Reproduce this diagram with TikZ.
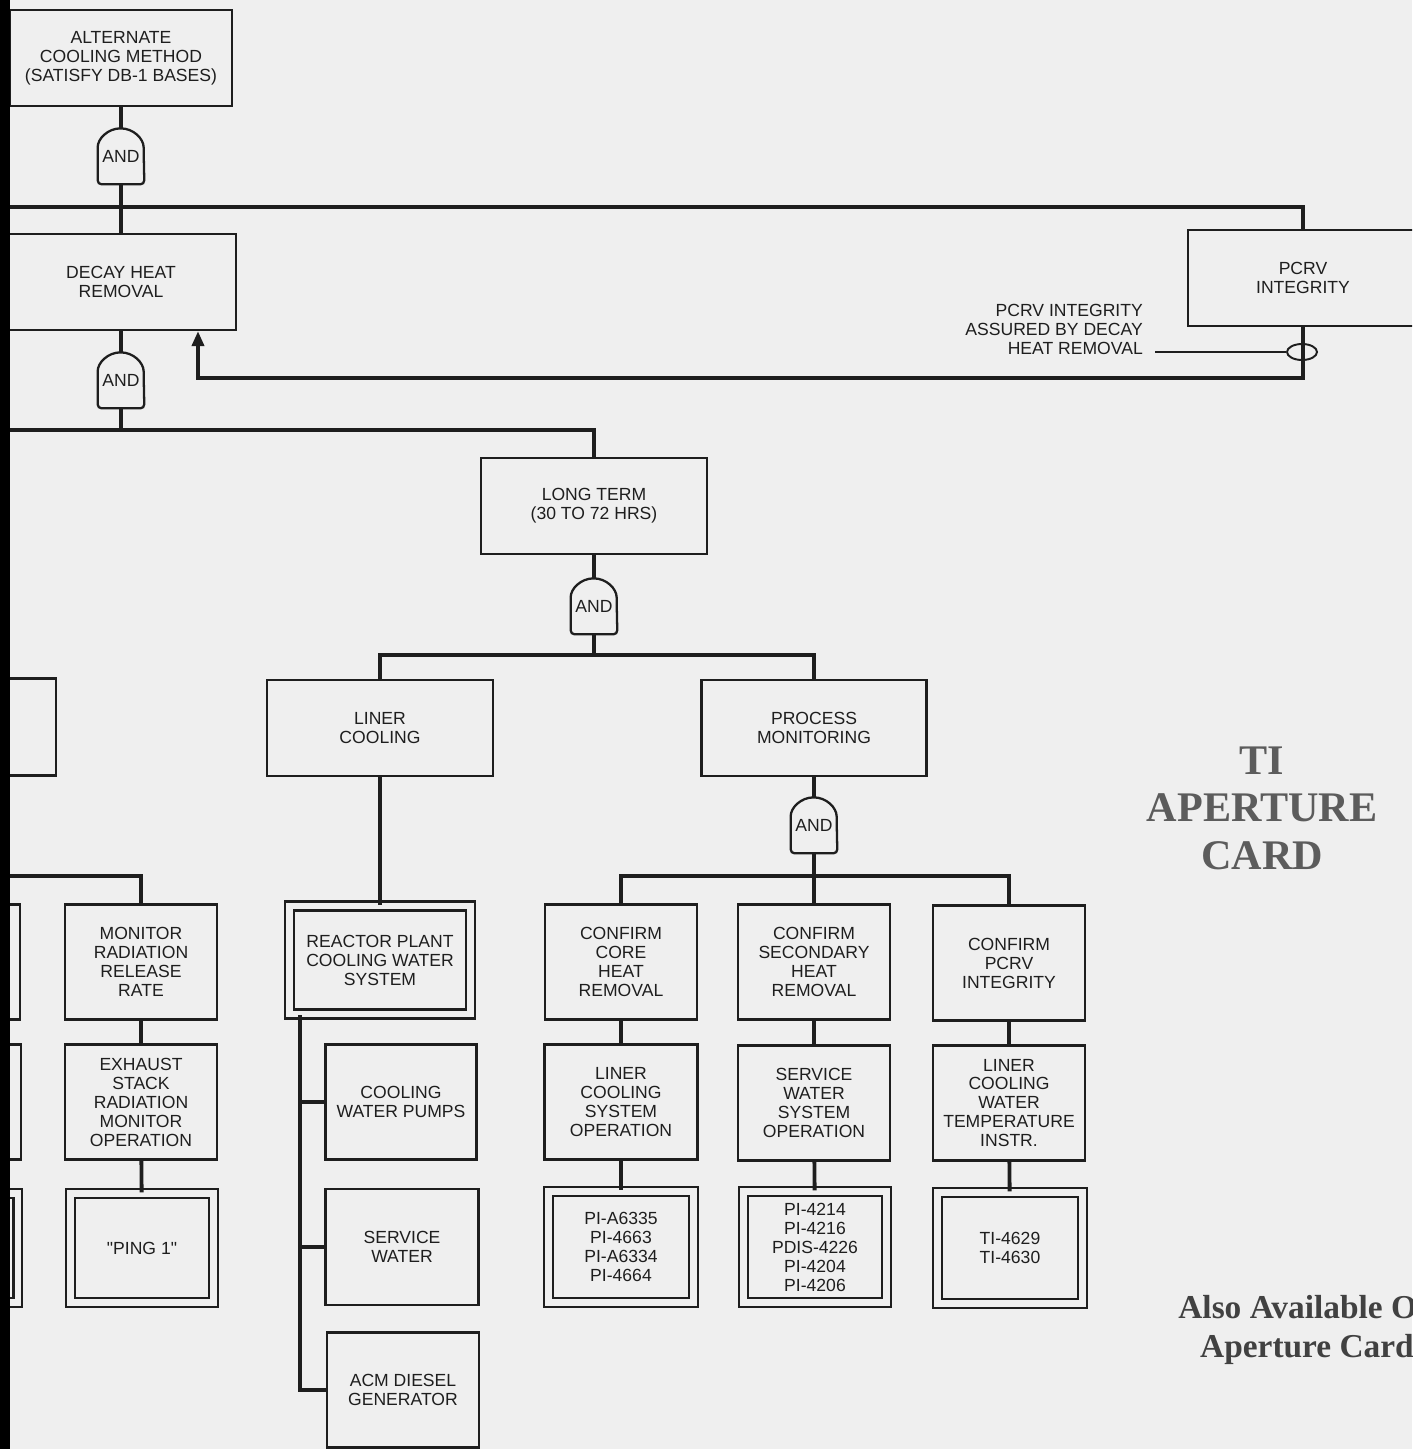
\documentclass[tikz,border=0pt]{standalone}
\usepackage{fontspec}
\setmainfont{Liberation Sans}[Ligatures=TeXOff]
\newfontfamily\cardfont{Liberation Serif}
\usetikzlibrary{positioning,shapes.geometric,arrows.meta}
\definecolor{scanbg}{HTML}{EFEFEF}
\definecolor{inkblack}{HTML}{1E1E1E}
\definecolor{inkgray}{HTML}{5C5C5C}
\tikzset{
    >={Triangle[length=3mm,width=2.4mm]},
    wire/.style={draw=inkblack, line width=2.2pt},
    font={\fontsize{10pt}{10.8pt}\selectfont},
}

\begin{document}
\begin{tikzpicture}[x=0.02cm, y=-0.02cm]
\tikzstyle{block} = [rectangle, draw=inkblack, line width=1.3pt, text=inkblack, align=center, inner sep=1pt]
\tikzstyle{instr} = [block, double=scanbg, double distance=0.13cm]
\tikzstyle{gate} = [rectangle, minimum width=0.92cm, minimum height=1.12cm, inner sep=0pt, text=inkblack]

\useasboundingbox (0,0) rectangle (1412,1449);
\clip (0,0) rectangle (1412,1449);
\fill[scanbg] (0,0) rectangle (1412,1449);

% Top of tree
\node[block, minimum width=4.44cm, minimum height=1.92cm] (alt_cool) at (121,58) {ALTERNATE\\COOLING METHOD\\(SATISFY DB-1 BASES)};
\node[gate] (and_alt) at (121,156) {AND};
\node[block, minimum width=4.6cm, minimum height=1.92cm] (decay) at (121,282) {DECAY HEAT\\REMOVAL};
\node[gate] (and_dhr) at (121,380) {AND};
\node[block, minimum width=4.6cm, minimum height=1.92cm] (pcrv) at (1303,278) {PCRV\\INTEGRITY};
\node[ellipse, draw=inkblack, line width=1.1pt, minimum width=0.6cm, minimum height=0.32cm, inner sep=0pt] (ring) at (1302,352) {};
\node[align=right, anchor=east, text=inkblack] (pcrv_note) at (1149,329) {PCRV INTEGRITY\\ASSURED BY DECAY\\HEAT REMOVAL};
\coordinate (note_end) at (1155,352);
\coordinate (bus_top) at (0,207);
\coordinate (bus_mid) at (0,430);
\coordinate (fb_corner) at (198,378);

% Long term
\node[block, minimum width=4.52cm, minimum height=1.92cm] (long_term) at (594,506) {LONG TERM\\(30 TO 72 HRS)};
\node[gate] (and_lt) at (594,606) {AND};
\coordinate (j_lt) at (594,655);
\node[block, minimum width=4.52cm, minimum height=1.92cm] (liner) at (380,728) {LINER\\COOLING};
\node[block, minimum width=4.5cm, minimum height=1.92cm] (proc_mon) at (814,728) {PROCESS\\MONITORING};
\node[gate] (and_pm) at (814,825) {AND};
\coordinate (j_pm) at (814,876);

% Liner cooling branch
\node[instr, minimum width=3.62cm, minimum height=2.16cm] (rp_cw) at (380,960) {REACTOR PLANT\\COOLING WATER\\SYSTEM};
\node[block, minimum width=3.02cm, minimum height=2.3cm] (cw_pumps) at (401,1102) {COOLING\\WATER PUMPS};
\node[block, minimum width=3.06cm, minimum height=2.32cm] (serv_water) at (402,1247) {SERVICE\\WATER};
\node[block, minimum width=3.04cm, minimum height=2.3cm] (acm_diesel) at (403,1390) {ACM DIESEL\\GENERATOR};
\coordinate (rp_spine) at (300,1390);

% Process monitoring branch
\node[block, minimum width=3.04cm, minimum height=2.3cm] (conf_core) at (621,962) {CONFIRM\\CORE\\HEAT\\REMOVAL};
\node[block, minimum width=3.04cm, minimum height=2.3cm] (conf_sec) at (814,962) {CONFIRM\\SECONDARY\\HEAT\\REMOVAL};
\node[block, minimum width=3.04cm, minimum height=2.3cm] (conf_pcrv) at (1009,963) {CONFIRM\\PCRV\\INTEGRITY};
\node[block, minimum width=3.06cm, minimum height=2.3cm] (lcs_op) at (621,1102) {LINER\\COOLING\\SYSTEM\\OPERATION};
\node[block, minimum width=3.04cm, minimum height=2.3cm] (sws_op) at (814,1103) {SERVICE\\WATER\\SYSTEM\\OPERATION};
\node[block, minimum width=3.04cm, minimum height=2.3cm] (lcw_temp) at (1009,1103) {LINER\\COOLING\\WATER\\TEMPERATURE\\INSTR.};
\node[instr, minimum width=2.9cm, minimum height=2.22cm] (pi_core) at (621,1247) {PI-A6335\\PI-4663\\PI-A6334\\PI-4664};
\node[instr, minimum width=2.86cm, minimum height=2.22cm] (pi_sec) at (815,1247) {PI-4214\\PI-4216\\PDIS-4226\\PI-4204\\PI-4206};
\node[instr, minimum width=2.9cm, minimum height=2.22cm] (ti_pcrv) at (1010,1248) {TI-4629\\TI-4630};

% Left edge, cut off
\node[block, anchor=east, minimum width=2cm, minimum height=1.94cm] (part_a) at (57,727) {};
\node[block, anchor=east, minimum width=2cm, minimum height=2.3cm] (part_b) at (21,962) {};
\node[block, anchor=east, minimum width=2cm, minimum height=2.3cm] (part_c) at (22,1102) {};
\node[instr, anchor=east, minimum width=2cm, minimum height=2.18cm] (part_d) at (19,1248) {};
\node[block, minimum width=3.04cm, minimum height=2.3cm] (mon_rad) at (141,962) {MONITOR\\RADIATION\\RELEASE\\RATE};
\node[block, minimum width=3.04cm, minimum height=2.3cm] (exh_stack) at (141,1102) {EXHAUST\\STACK\\RADIATION\\MONITOR\\OPERATION};
\node[instr, minimum width=2.86cm, minimum height=2.18cm] (ping) at (142,1248) {"PING 1"};
\coordinate (bus_left) at (0,876);

% AND gate outlines
\foreach \g in {and_alt,and_dhr,and_lt,and_pm}{
    \draw[draw=inkblack, line width=1.3pt, rounded corners=0.08cm] (\g.south west) -- ([yshift=0.66cm]\g.south west) arc[start angle=180, end angle=0, radius=0.46cm] -- (\g.south east) -- cycle;
}

% Connectors
\draw[wire] (alt_cool) -- (and_alt);
\draw[wire] (and_alt) -- (decay);
\draw[wire] (bus_top) -| (pcrv.north);
\draw[wire] (decay) -- (and_dhr);
\draw[wire] (and_dhr.south) -- (and_dhr.south |- bus_mid);
\draw[wire] (bus_mid) -| (long_term.north);
\draw[wire, ->] (pcrv.south) |- (fb_corner) -- (fb_corner |- decay.south);
\draw[draw=inkblack, line width=0.9pt] (note_end) -- (ring.west);

\draw[wire] (long_term) -- (and_lt);
\draw[wire] (and_lt.south) -- (j_lt);
\draw[wire] (liner.north) |- (j_lt) -| (proc_mon.north);
\draw[wire] (proc_mon) -- (and_pm);
\draw[wire] (and_pm.south) -- (j_pm);
\draw[wire] (conf_core.north) |- (j_pm) -| (conf_pcrv.north);
\draw[wire] (j_pm) -- (conf_sec.north);

\draw[wire] (liner) -- (rp_cw);
\draw[wire] (rp_cw.south -| rp_spine) -- (rp_spine) -- (acm_diesel.west);
\draw[wire] (cw_pumps.west -| rp_spine) -- (cw_pumps.west);
\draw[wire] (serv_water.west -| rp_spine) -- (serv_water.west);

\draw[wire] (conf_core) -- (lcs_op);
\draw[wire] (lcs_op) -- (pi_core);
\draw[wire] (conf_sec) -- (sws_op);
\draw[wire] (sws_op) -- (pi_sec);
\draw[wire] (conf_pcrv) -- (lcw_temp);
\draw[wire] (lcw_temp) -- (ti_pcrv);

\draw[wire] (bus_left) -| (mon_rad.north);
\draw[wire] (mon_rad) -- (exh_stack);
\draw[wire] (exh_stack) -- (ping);

% Card notes
\node[font={\cardfont\bfseries\fontsize{24pt}{27pt}\selectfont}, text=inkgray, align=center] (card) at (1262,808) {TI\\APERTURE\\CARD};
\node[font={\cardfont\bfseries\fontsize{19pt}{22.7pt}\selectfont}, text=inkgray!70!black, align=center, anchor=west, inner sep=0pt] (also_avail) at (1178,1330) {Also Available On\\Aperture Card};

% scan edge
\fill[black] (0,0) rectangle (10,1449);
\end{tikzpicture}
\end{document}
